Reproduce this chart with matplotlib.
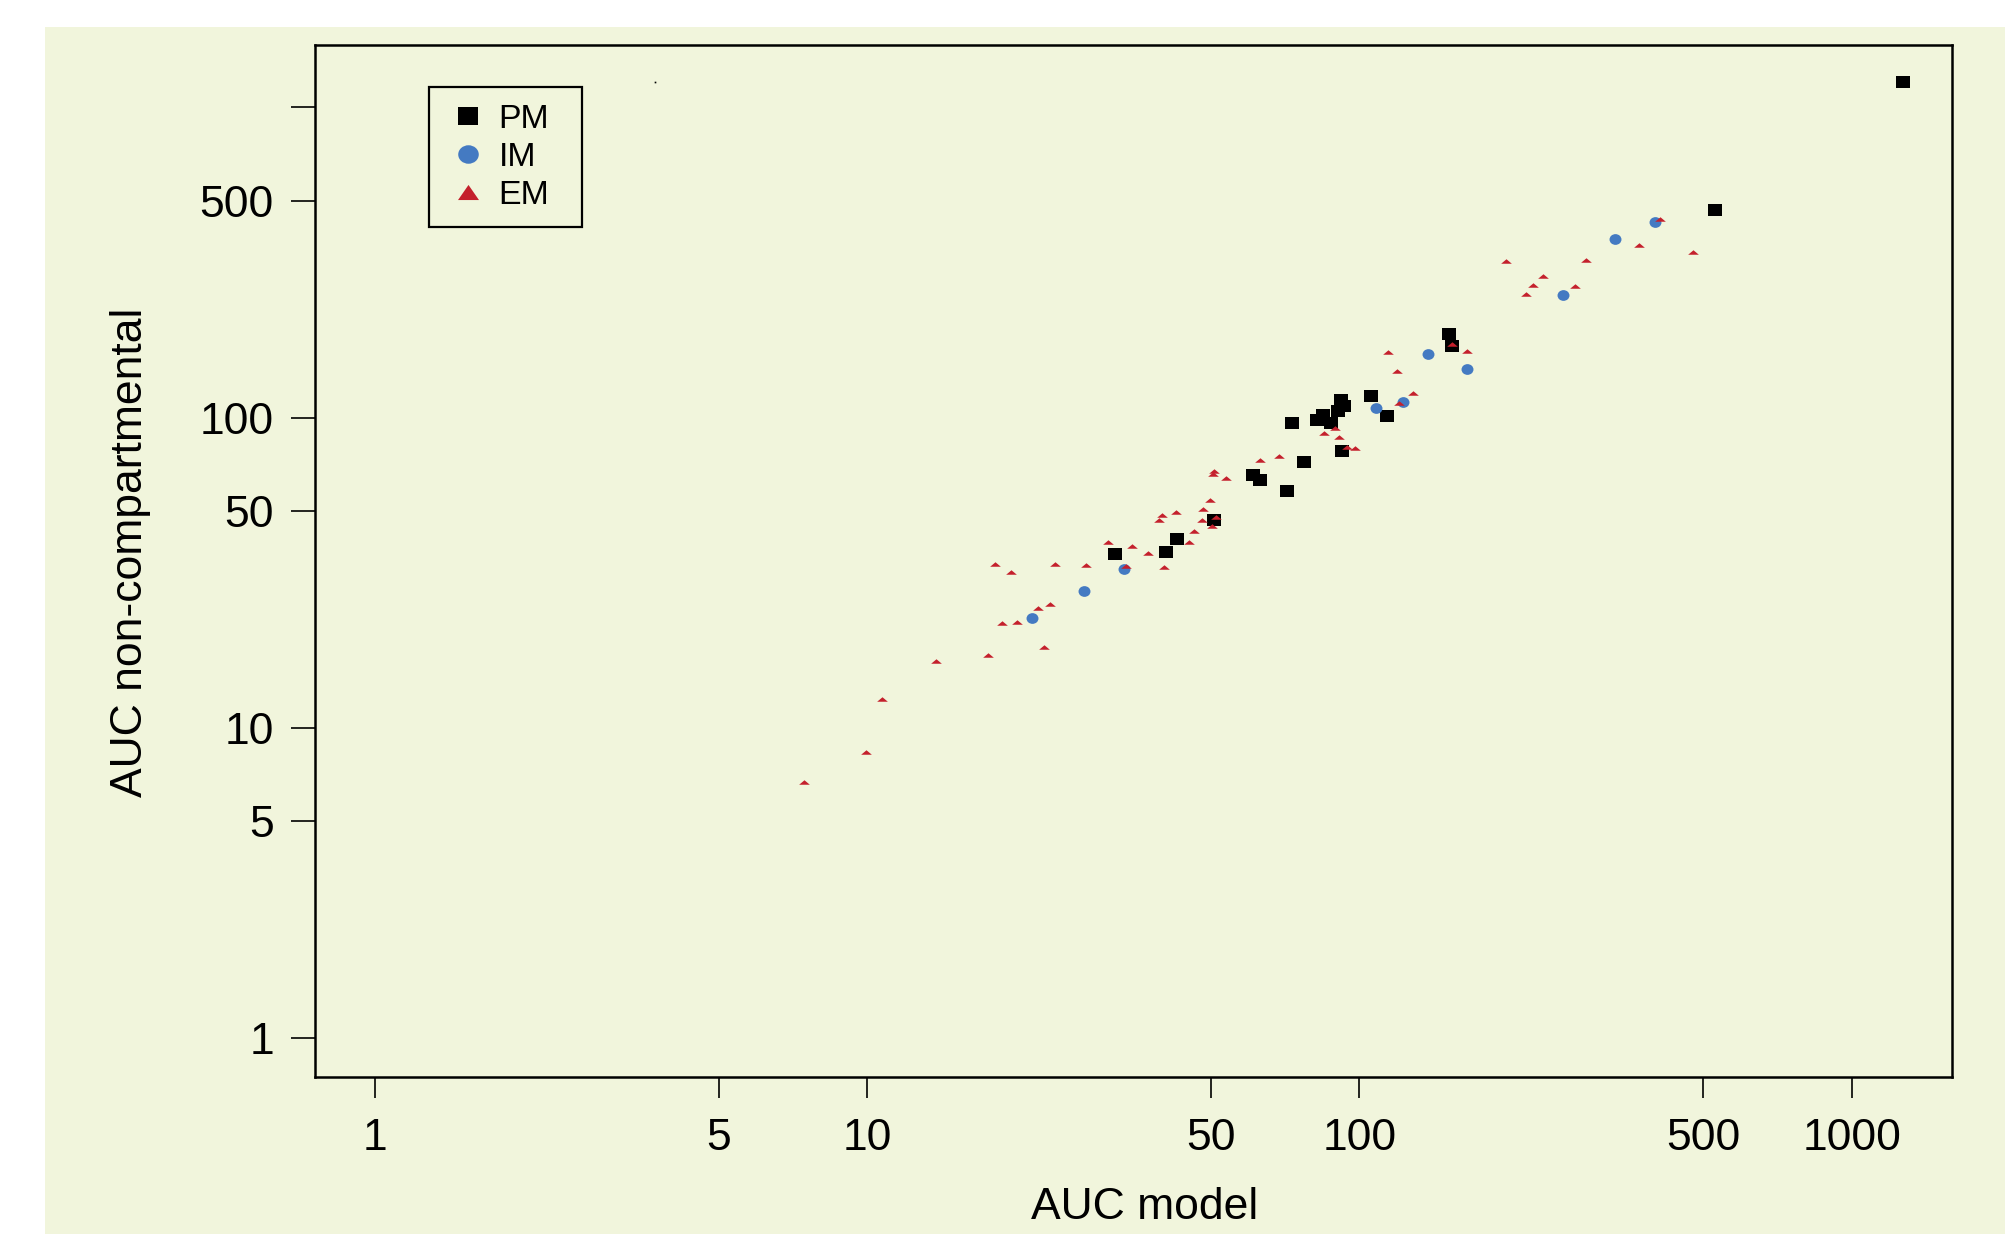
import matplotlib
matplotlib.use("Agg")
import matplotlib.pyplot as plt
import numpy as np
from matplotlib.path import Path
from matplotlib.lines import Line2D
from matplotlib.patches import Rectangle

plt.rcParams['font.family'] = ['Liberation Sans', 'DejaVu Sans']

# PM (squares)
pm_x = [91.7, 93.2, 90.5, 73.1, 82.2, 84.5, 87.6, 105.8, 113.7, 92.1, 77.1,
        60.9, 62.7, 71.2, 50.6, 42.7, 40.4, 31.9, 152.3, 154.5, 528, 1274]
pm_y = [114.0, 109.1, 105.1, 96.4, 98.1, 101.8, 96.1, 117.5, 101.0, 78.3, 71.8,
        65.4, 62.8, 58.0, 46.7, 40.6, 36.8, 36.3, 186.6, 170.6, 466, 1205]

# IM (circles)
im_x = [398.8, 331.1, 259.3, 138.1, 165.7, 122.9, 108.1, 33.2, 27.6, 21.6]
im_y = [428.2, 377.5, 248.0, 160.5, 143.9, 112.4, 107.7, 32.5, 27.6, 22.6]

# EM (triangles)
em_x = [408.2, 369.5, 476.9, 198.9, 289.1, 236.1, 225.6, 274.7, 218.4, 154.0,
        165.3, 114.5, 119.3, 128.5, 120.2, 89.3, 84.9, 91.1, 94.3, 98.1,
        68.8, 62.7, 50.6, 50.4, 53.6, 49.7, 48.2, 39.8, 42.4, 39.1,
        47.8, 51.2, 50.2, 46.2, 45.0, 30.8, 34.6, 37.2, 24.1, 27.9,
        33.5, 40.1, 19.6, 18.2, 23.5, 22.2, 18.8, 20.2, 22.9, 17.6,
        13.8, 10.7, 9.95, 7.45]
em_y = [437.8, 360.9, 342.8, 319.2, 322.3, 286.1, 267.7, 265.1, 250.4, 172.4,
        163.7, 162.8, 141.8, 120.4, 111.3, 92.4, 89.3, 86.9, 80.3, 79.6,
        75.4, 73.0, 67.3, 65.6, 63.8, 54.4, 50.9, 48.7, 49.5, 46.7,
        46.7, 47.9, 44.7, 43.0, 39.8, 39.8, 38.7, 36.7, 33.7, 33.4,
        33.3, 33.1, 31.9, 33.7, 25.0, 24.4, 21.8, 21.9, 18.2, 17.2,
        16.4, 12.4, 8.37, 6.71]

# stray dot near the top
dot_x = [3.71]
dot_y = [1210]

x_ticks = [1, 5, 10, 50, 100, 500, 1000]
y_ticks = [1, 5, 10, 50, 100, 500, 1000]
y_ticklabels = ['1', '5', '10', '50', '100', '500', '']

bg = '#F1F5DC'
blue = '#447AC2'
red = '#C4202C'

# slightly squashed marker shapes
sq = Path([(-1, -0.85), (1, -0.85), (1, 0.85), (-1, 0.85), (-1, -0.85)],
          [Path.MOVETO, Path.LINETO, Path.LINETO, Path.LINETO, Path.CLOSEPOLY])
uc = Path.unit_circle()
ell = Path(uc.vertices * np.array([1.0, 0.9]), uc.codes)
tri_flat = Path([(-1, -0.42), (1, -0.42), (0, 0.42), (-1, -0.42)],
                [Path.MOVETO, Path.LINETO, Path.LINETO, Path.CLOSEPOLY])
tri_leg = Path([(-1, -0.72), (1, -0.72), (0, 0.72), (-1, -0.72)],
               [Path.MOVETO, Path.LINETO, Path.LINETO, Path.CLOSEPOLY])

fig = plt.figure(figsize=(20.05, 12.34), dpi=100, facecolor='white')
panel = Rectangle((45 / 2005, 0), 1 - 45 / 2005, 1 - 27 / 1234,
                  transform=fig.transFigure, facecolor=bg, edgecolor='none')
panel.set_zorder(-10)
fig.add_artist(panel)

ax = fig.add_axes([0.157, 0.1275, 0.8164, 0.8363])
ax.set_zorder(1)
ax.set_facecolor(bg)
ax.set_xscale('log')
ax.set_yscale('log')
ax.set_xlim(0.755, 1597)
ax.set_ylim(0.752, 1592)

ax.plot(pm_x, pm_y, ls='none', marker=sq, markersize=9.6, color='black', mew=0)
ax.plot(im_x, im_y, ls='none', marker=ell, markersize=8.6, color=blue, mew=0)
ax.plot(em_x, em_y, ls='none', marker=tri_flat, markersize=7.7, color=red, mew=0)
ax.plot(dot_x, dot_y, ls='none', marker='s', markersize=1.2, color='black', mew=0)

ax.minorticks_off()
ax.set_xticks(x_ticks)
ax.set_xticklabels([str(t) for t in x_ticks])
ax.set_yticks(y_ticks)
ax.set_yticklabels(y_ticklabels)
ax.tick_params(axis='x', direction='out', length=15, width=1.2, pad=14.5,
               labelsize=32, colors='black')
ax.tick_params(axis='y', direction='out', length=17.5, width=1.2, pad=12,
               labelsize=32, colors='black')
for s in ax.spines.values():
    s.set_linewidth(1.8)
    s.set_color('black')

ax.set_xlabel('AUC model', fontsize=32)
ax.xaxis.set_label_coords(0.507, -0.1065)
ax.set_ylabel('AUC non-compartmental', fontsize=32)
ax.yaxis.set_label_coords(-0.1, 0.508)

handles = [
    Line2D([], [], ls='none', marker=sq, markersize=14.8, color='black', mew=0),
    Line2D([], [], ls='none', marker=ell, markersize=14.8, color=blue, mew=0),
    Line2D([], [], ls='none', marker=tri_leg, markersize=15.1, color=red, mew=0),
]
ax.legend(handles, ['PM', 'IM', 'EM'], loc='center left',
          bbox_to_anchor=(0.0833, 0.891), frameon=False, fontsize=24.4,
          borderpad=0, borderaxespad=0, handlelength=1.0, handletextpad=0.4,
          labelspacing=0.21)
ax.add_patch(Rectangle((0.0696, 0.8231), 0.0935, 0.1357, transform=ax.transAxes,
                       fill=False, edgecolor='black', linewidth=1.6, zorder=5))

fig.savefig('out.png', dpi=100, facecolor=fig.get_facecolor())
